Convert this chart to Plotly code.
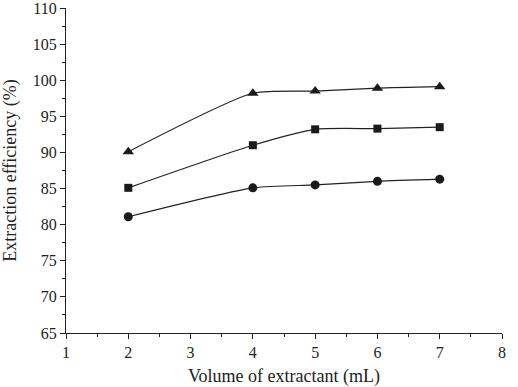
import plotly.graph_objects as go

volume = [2, 4, 5, 6, 7]
series_triangle = [90.1, 98.2, 98.5, 98.9, 99.1]
series_square = [85.1, 91.0, 93.2, 93.3, 93.5]
series_circle = [81.1, 85.1, 85.5, 86.0, 86.3]

fig = go.Figure()
for ys, sym, sz in [(series_triangle, "triangle-up", 10), (series_square, "square", 8), (series_circle, "circle", 9)]:
    fig.add_trace(go.Scatter(
        x=volume, y=ys, mode="lines+markers",
        line=dict(color="#222222", width=1.2, shape="spline", smoothing=0.6),
        marker=dict(symbol=sym, size=sz, color="#1a1a1a"),
        showlegend=False,
    ))

font_family = "Liberation Serif, Times New Roman, serif"
fig.update_layout(
    width=518, height=387,
    margin=dict(l=66, r=16, t=8, b=54),
    paper_bgcolor="white", plot_bgcolor="white",
    font=dict(family=font_family, size=16, color="#222222"),
)
fig.update_xaxes(
    range=[1, 8], dtick=1, tick0=1, showgrid=False, zeroline=False,
    showline=True, linecolor="#222222", linewidth=1.2,
    ticks="outside", ticklen=5, tickcolor="#222222",
    minor=dict(dtick=0.5, tick0=1, ticks="outside", ticklen=3, tickcolor="#222222"),
    title=dict(text="Volume of extractant (mL)", font=dict(size=18)),
    tickfont=dict(size=16), automargin=False, ticklabeloverflow="allow",
)
fig.update_yaxes(
    range=[65, 110], dtick=5, tick0=65, showgrid=False, zeroline=False,
    showline=True, linecolor="#222222", linewidth=1.2,
    ticks="outside", ticklen=5, tickcolor="#222222",
    minor=dict(dtick=2.5, tick0=65, ticks="outside", ticklen=3, tickcolor="#222222"),
    title=dict(text="Extraction efficiency (%)", font=dict(size=18)),
    tickfont=dict(size=16), automargin=False, ticklabeloverflow="allow",
)
fig.write_html("out.html", config={"displayModeBar": False},
               post_script="document.body.style.margin='0';")
